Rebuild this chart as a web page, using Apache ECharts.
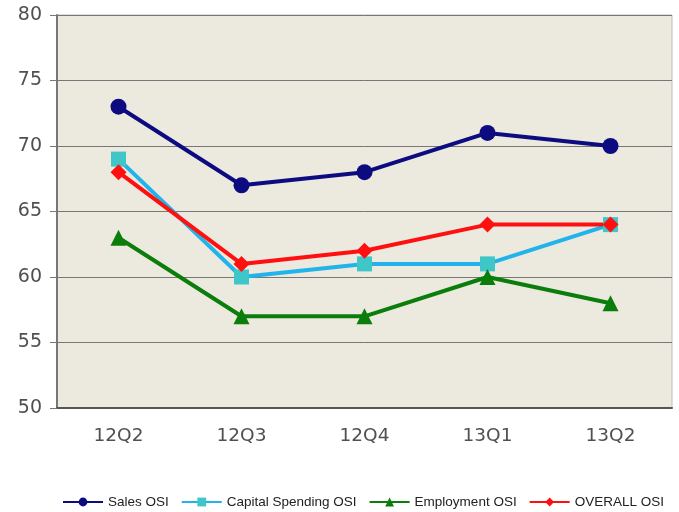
<!DOCTYPE html>
<html>
<head>
<meta charset="utf-8">
<script src="https://cdn.jsdelivr.net/npm/echarts@6/dist/echarts.min.js"></script>
<style>
  html, body { margin: 0; padding: 0; background: #fff; }
  #chart { width: 679px; height: 512px; }
</style>
</head>
<body>
<div id="chart"></div>
<script>
// quarters and index values
const quarters = ['12Q2', '12Q3', '12Q4', '13Q1', '13Q2'];
const salesOSI = [73, 67, 68, 71, 70];
const capitalOSI = [69, 60, 61, 61, 64];
const employmentOSI = [63, 57, 57, 60, 58];
const overallOSI = [68, 61, 62, 64, 64];

const chart = echarts.init(document.getElementById('chart'));

function line(name, data, color, symbol, size, markerColor) {
    return {
        name: name,
        type: 'line',
        data: data,
        symbol: symbol,
        symbolSize: size,
        lineStyle: { color: color, width: 4 },
        itemStyle: { color: markerColor || color },
        emphasis: { disabled: true }
    };
}

chart.setOption({
    animation: false,
    textStyle: { fontFamily: 'DejaVu Sans' },
    grid: {
        left: 57, right: 7, top: 15, bottom: 104,
        show: true,
        backgroundColor: '#ECE9DF',
        borderColor: '#BDBDBD',
        borderWidth: 1
    },
    legend: {
        bottom: 3,
        left: 62,
        width: 617,
        padding: 0,
        itemWidth: 40,
        itemHeight: 11,
        itemGap: 12,
        textStyle: { fontSize: 13.5, color: '#222', fontFamily: 'Liberation Sans' }
    },
    xAxis: {
        type: 'category',
        data: quarters,
        axisLine: { lineStyle: { color: '#555', width: 2 } },
        axisTick: { alignWithLabel: true, inside: true, length: 5, lineStyle: { color: '#777' } },
        axisLabel: { fontSize: 18.5, color: '#505050', margin: 19 }
    },
    yAxis: {
        type: 'value',
        min: 50, max: 80, interval: 5,
        axisLine: { show: true, lineStyle: { color: '#777', width: 2 } },
        axisTick: { show: true, length: 7, lineStyle: { color: '#777' } },
        axisLabel: { fontSize: 19, color: '#505050', margin: 15 },
        splitLine: { lineStyle: { color: '#777', width: 1 } }
    },
    series: [
        line('Sales OSI', salesOSI, '#0C0C80', 'circle', 16),
        line('Capital Spending OSI', capitalOSI, '#20B4EA', 'rect', 15, '#3EC6C8'),
        line('Employment OSI', employmentOSI, '#0B7D0B', 'triangle', 16),
        line('OVERALL OSI', overallOSI, '#FF1010', 'diamond', 16)
    ]
});
</script>
</body>
</html>
